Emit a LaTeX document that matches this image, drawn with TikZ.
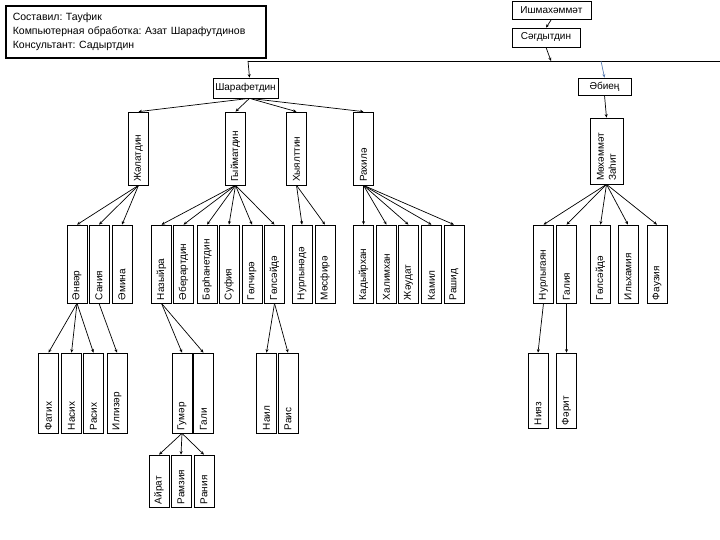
\documentclass[tikz,border=0pt]{standalone}
\usepackage{fontspec}
\setmainfont{Liberation Sans}
\usepackage{xcolor}
\usetikzlibrary{arrows.meta}
\definecolor{linkblue}{HTML}{5B7DB1}
\frenchspacing

\begin{document}
\begin{tikzpicture}[x=1pt, y=-1pt,
    box/.style={draw, line width=0.7pt, inner sep=0pt, font=\fontsize{10}{12}\selectfont},
    person/.style={box, rotate=90, inner xsep=3pt, minimum height=20pt, align=left},
    gentwo/.style={person, text width=67pt},
    genthree/.style={person, text width=72pt},
    genfour/.style={person, text width=74pt},
    genfive/.style={person, text width=46pt},
    arr/.style={line width=0.7pt, -{Stealth[length=3.5pt, width=3pt]}}]
    \useasboundingbox (0,0) rectangle (720,540);

    \node[draw, line width=1.6pt, anchor=north west, minimum width=260pt, minimum height=52pt,
          inner xsep=7pt, text width=246pt, align=left,
          font=\fontsize{10.5}{14}\selectfont] (credits) at (5,5) {%
      Составил: Тауфик\\
      Компьютерная обработка: Азат Шарафутдинов\\
      Консультант: Садыртдин};

    \node[box, minimum width=79pt, minimum height=18pt] (ishm) at (551.5,10) {Ишмахәммәт};
    \node[box, minimum width=68pt, minimum height=19pt] (sagd) at (546,37.5) {Сәгдытдин};
    \node[box, minimum width=65pt, minimum height=20pt] (shar) at (245.5,88) {Шарафетдин};
    \node[box, minimum width=53pt, minimum height=17pt] (abien) at (604.5,86.5) {Әбиең};

    \coordinate (lineL) at (248,61);
    \coordinate (lineR) at (720,61);
    \coordinate (lineS) at (551,61);
    \coordinate (lineA) at (601,61);
    \draw[line width=0.8pt] (lineL) -- (lineR);

    \node[gentwo] (jalat) at (138.5,148.5) {Жәлатдин};
    \node[gentwo] (gyimat) at (235.5,148.5) {Гыйматдин};
    \node[gentwo] (hyyal) at (296.5,148.5) {Хыялттин};
    \node[gentwo] (rahila) at (363.5,148.5) {Рахилә};
    \node[person, minimum height=33pt, text width=60pt] (zahit) at (606.5,151) {Мөхәммәт\\Заһит};

    \node[genthree] (anvar) at (77,264) {Әнвәр};
    \node[genthree] (saniya) at (99,264) {Сания};
    \node[genthree] (amina) at (122,264) {Әмина};
    \node[genthree] (nazyira) at (161.5,264) {Назыйра};
    \node[genthree] (aberar) at (183.5,264) {Әберартдин};
    \node[genthree] (barhan) at (207,264) {Бәрһанетдин};
    \node[genthree] (sufiya) at (229,264) {Суфия};
    \node[genthree] (gulchira) at (252,264) {Гөлчирә};
    \node[genthree] (gulsaida) at (274.5,264) {Гөлсәйдә};
    \node[genthree] (nurlynada) at (302,264) {Нурлынәдә};
    \node[genthree] (musfira) at (325,264) {Мөсфирә};
    \node[genthree] (kadyir) at (363.5,264) {Кадыйрхан};
    \node[genthree] (halim) at (386.5,264) {Халимхан};
    \node[genthree] (jaudat) at (408.5,264) {Жәудат};
    \node[genthree] (kamil) at (431.5,264) {Камил};
    \node[genthree] (rashid) at (454,264) {Рашид};
    \node[genthree] (nurlygayan) at (543.5,264) {Нурлыгаян};
    \node[genthree] (galiya) at (566.5,264) {Галия};
    \node[genthree] (gulsaidb) at (600.5,264) {Гөлсәйдә};
    \node[genthree] (ilhamiya) at (628,264) {Ильхамия};
    \node[genthree] (fauziya) at (657,264) {Фаузия};

    \node[genfour] (fatih) at (48.5,393) {Фатих};
    \node[genfour] (nasih) at (71.5,393) {Насих};
    \node[genfour] (rasih) at (93.5,393) {Расих};
    \node[genfour] (ilgizar) at (117,393) {Илгизәр};
    \node[genfour] (gumar) at (182,393) {Гумәр};
    \node[genfour] (gali) at (203.5,393) {Гали};
    \node[genfour] (nail) at (266.5,393) {Наил};
    \node[genfour] (rais) at (288,393) {Раис};
    \node[person, text width=69pt] (niyaz) at (538,390.5) {Нияз};
    \node[person, text width=69pt] (farit) at (566.5,390.5) {Фәрит};

    \node[genfive] (airat) at (159,481) {Айрат};
    \node[genfive] (ramziya) at (181,481) {Рамзия};
    \node[genfive] (raniya) at (204,481) {Рания};

    \draw[arr] (ishm.south) -- (sagd.north);
    \draw[arr] (sagd.south) -- (lineS);
    \draw[arr] (lineL) -- ([xshift=4pt]shar.north);
    \draw[arr, draw=linkblue] (lineA) -- (abien.north);
    \draw[arr] (abien.south) -- (zahit.east);

    \draw ([xshift=4pt]shar.south) edge[arr] (jalat.east) edge[arr] (gyimat.east)
        edge[arr] (hyyal.east) edge[arr] (rahila.east);
    \draw (jalat.west) edge[arr] (anvar.east) edge[arr] (saniya.east) edge[arr] (amina.east);
    \draw (gyimat.west) edge[arr] (nazyira.east) edge[arr] (aberar.east) edge[arr] (barhan.east)
        edge[arr] (sufiya.east) edge[arr] (gulchira.east) edge[arr] (gulsaida.east);
    \draw (hyyal.west) edge[arr] (nurlynada.east) edge[arr] (musfira.east);
    \draw (rahila.west) edge[arr] (kadyir.east) edge[arr] (halim.east) edge[arr] (jaudat.east)
        edge[arr] (kamil.east) edge[arr] (rashid.east);
    \draw (zahit.west) edge[arr] (nurlygayan.east) edge[arr] (galiya.east)
        edge[arr] (gulsaidb.east) edge[arr] (ilhamiya.east) edge[arr] (fauziya.east);

    \draw (anvar.west) edge[arr] (fatih.east) edge[arr] (nasih.east) edge[arr] (rasih.east);
    \draw[arr] (saniya.west) -- (ilgizar.east);
    \draw (nazyira.west) edge[arr] (gumar.east) edge[arr] (gali.east);
    \draw (gulsaida.west) edge[arr] (nail.east) edge[arr] (rais.east);
    \draw[arr] (nurlygayan.west) -- (niyaz.east);
    \draw[arr] (galiya.west) -- (farit.east);
    \draw (gumar.west) edge[arr] (airat.east) edge[arr] (ramziya.east) edge[arr] (raniya.east);
\end{tikzpicture}
\end{document}
